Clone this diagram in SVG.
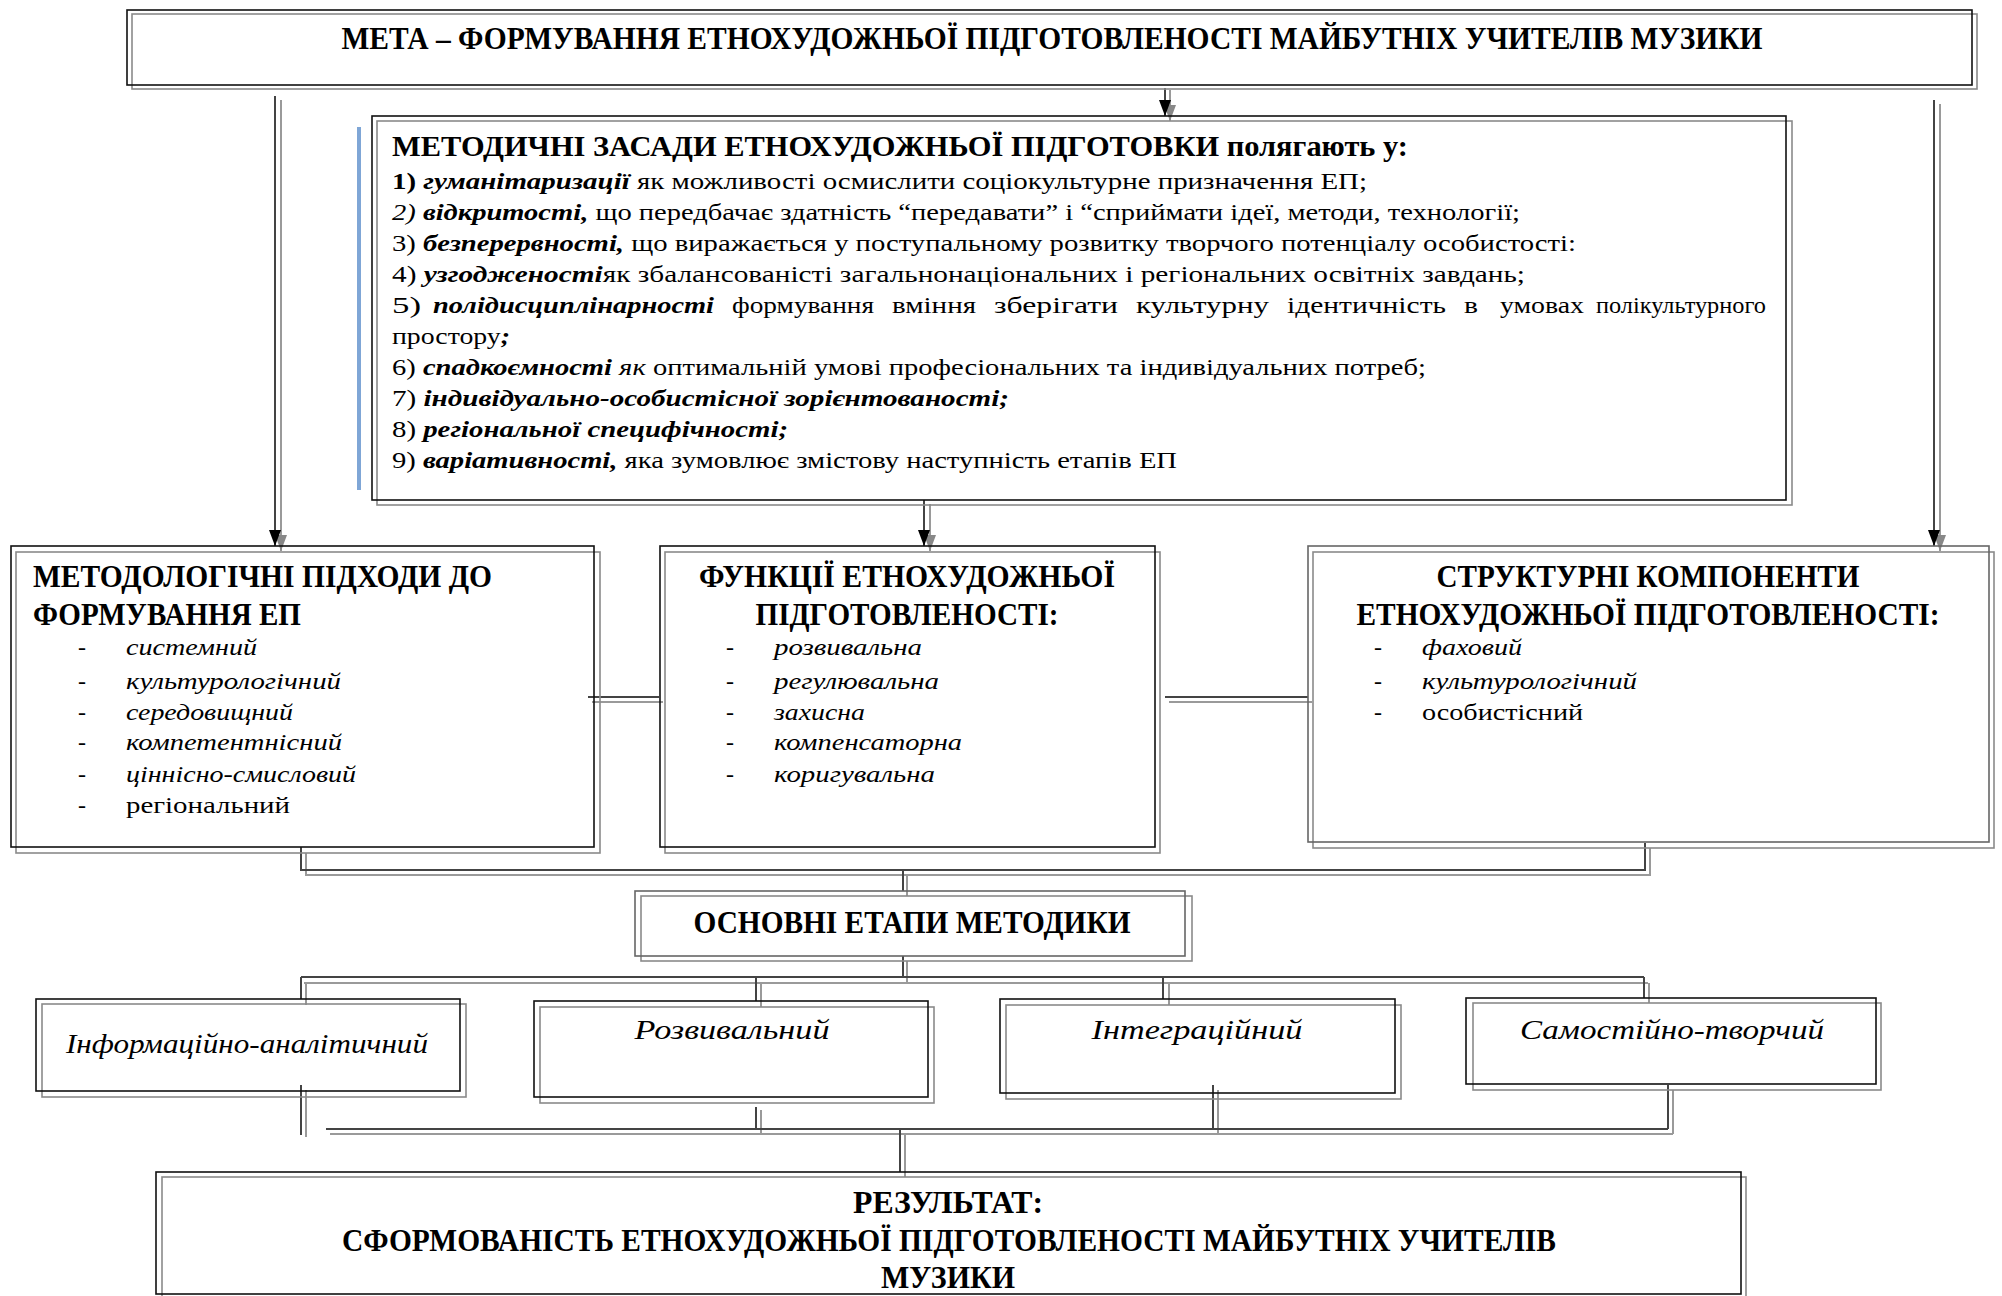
<svg xmlns="http://www.w3.org/2000/svg" width="2002" height="1296" viewBox="0 0 2002 1296">
<style>
  .bk{fill:none;stroke:#111;stroke-width:1.6}
  .gr{fill:none;stroke:#8a8a8a;stroke-width:1.6}
  .dk{fill:none;stroke:#666;stroke-width:1.6}
  .cb{fill:none;stroke:#444;stroke-width:2}
  .cg{fill:none;stroke:#9a9a9a;stroke-width:2}
  text{font-family:"Liberation Serif","DejaVu Serif",serif;fill:#000}
  .h29{font-size:31px;font-weight:bold}
  .h28{font-size:30px;font-weight:bold}
  .h30{font-size:31px;font-weight:bold}
  .bd{font-size:24px}
  .it{font-style:italic}
  .bo{font-weight:bold}
  .bi{font-weight:bold;font-style:italic}
  .st{font-size:28px;font-style:italic}
</style>
<defs>
  <marker id="arrB" markerUnits="userSpaceOnUse" markerWidth="16" markerHeight="12" refX="16" refY="6" orient="auto">
    <path d="M0,0 L16,6 L0,12 z" fill="#000"/>
  </marker>
  <marker id="arrG" markerUnits="userSpaceOnUse" markerWidth="16" markerHeight="12" refX="16" refY="6" orient="auto">
    <path d="M0,0 L16,6 L0,12 z" fill="#888"/>
  </marker>
</defs>
<rect width="2002" height="1296" fill="#fff"/>

<g id="connectors">
  <path class="cg" d="M281,100 L281,551" marker-end="url(#arrG)"/>
  <path class="cb" d="M275,96 L275,546" marker-end="url(#arrB)"/>
  <path class="cg" d="M1170,90 L1170,121" marker-end="url(#arrG)"/>
  <path class="cb" d="M1165,88 L1165,116" marker-end="url(#arrB)"/>
  <path class="cg" d="M1940,104 L1940,551" marker-end="url(#arrG)"/>
  <path class="cb" d="M1934,100 L1934,546" marker-end="url(#arrB)"/>
  <path class="cg" d="M930,504 L930,551" marker-end="url(#arrG)"/>
  <path class="cb" d="M924,500 L924,546" marker-end="url(#arrB)"/>
  <path class="cg" d="M592,702 L663,702 M1169,702 L1312,702"/>
  <path class="cb" d="M588,697 L659,697 M1165,697 L1308,697"/>
  <path class="cg" d="M306,853 L306,875 L1650,875 L1650,848 M907,875 L907,896"/>
  <path class="cb" d="M301,847 L301,870 L1645,870 L1645,843 M903,870 L903,891"/>
  <path class="cg" d="M907,961 L907,983 M304,983 L1648,983 M306,983 L306,1005 M761,983 L761,1007 M1169,983 L1169,1005 M1649,983 L1649,1003"/>
  <path class="cb" d="M903,956 L903,977 M301,977 L1644,977 M301,977 L301,999 M756,977 L756,1001 M1163,977 L1163,999 M1644,977 L1644,998"/>
  <path class="cg" d="M306,1090 L306,1137 M330,1134 L1673,1134 M761,1110 L761,1134 M1218,1090 L1218,1134 M1673,1090 L1673,1134 M905,1134 L905,1177"/>
  <path class="cb" d="M301,1085 L301,1135 M326,1129 L1668,1129 M756,1107 L756,1129 M1213,1085 L1213,1129 M1668,1085 L1668,1129 M900,1129 L900,1172"/>
</g>

<g id="goal">
  <rect class="gr" x="132" y="14" width="1845" height="75"/>
  <rect class="bk" x="127" y="10" width="1845" height="75" fill="#fff"/>
  <text class="h29" x="1052" y="49" text-anchor="middle" textLength="1421" lengthAdjust="spacingAndGlyphs">МЕТА – ФОРМУВАННЯ ЕТНОХУДОЖНЬОЇ ПІДГОТОВЛЕНОСТІ МАЙБУТНІХ УЧИТЕЛІВ МУЗИКИ</text>
</g>

<g id="principles">
  <rect class="gr" x="377" y="121" width="1415" height="384"/>
  <rect class="bk" x="372" y="116" width="1414" height="384" fill="#fff"/>
  <line x1="359" y1="127" x2="359" y2="490" stroke="#7fa6d6" stroke-width="4"/>
  <text class="h28" x="392" y="156" textLength="1016" lengthAdjust="spacingAndGlyphs">МЕТОДИЧНІ ЗАСАДИ ЕТНОХУДОЖНЬОЇ ПІДГОТОВКИ полягають у:</text>
  <text class="bd" x="392" y="189" textLength="975" lengthAdjust="spacingAndGlyphs"><tspan class="bo">1) </tspan><tspan class="bi">гуманітаризації</tspan> як можливості осмислити соціокультурне призначення ЕП;</text>
  <text class="bd" x="392" y="220" textLength="1128" lengthAdjust="spacingAndGlyphs"><tspan class="it">2) </tspan><tspan class="bi">відкритості,</tspan> що передбачає здатність “передавати” і “сприймати ідеї, методи, технології;</text>
  <text class="bd" x="392" y="251" textLength="1184" lengthAdjust="spacingAndGlyphs">3) <tspan class="bi">безперервності,</tspan> що виражається у поступальному розвитку творчого потенціалу особистості:</text>
  <text class="bd" x="392" y="282" textLength="1133" lengthAdjust="spacingAndGlyphs">4) <tspan class="bi">узгодженості</tspan>як збалансованісті загальнонаціональних і регіональних освітніх завдань;</text>
  <text class="bd" y="313"><tspan x="392" textLength="29" lengthAdjust="spacingAndGlyphs">5)</tspan><tspan class="bi" x="433" textLength="281" lengthAdjust="spacingAndGlyphs">полідисциплінарності</tspan><tspan x="732" textLength="142" lengthAdjust="spacingAndGlyphs">формування</tspan><tspan x="892" textLength="84" lengthAdjust="spacingAndGlyphs">вміння</tspan><tspan x="994" textLength="124" lengthAdjust="spacingAndGlyphs">зберігати</tspan><tspan x="1136" textLength="133" lengthAdjust="spacingAndGlyphs">культурну</tspan><tspan x="1287" textLength="159" lengthAdjust="spacingAndGlyphs">ідентичність</tspan><tspan x="1464" textLength="14" lengthAdjust="spacingAndGlyphs">в</tspan><tspan x="1500" textLength="84" lengthAdjust="spacingAndGlyphs">умовах</tspan><tspan x="1596" textLength="170" lengthAdjust="spacingAndGlyphs">полікультурного</tspan></text>
  <text class="bd" x="392" y="344" textLength="118" lengthAdjust="spacingAndGlyphs">простору<tspan class="bi">;</tspan></text>
  <text class="bd" x="392" y="375" textLength="1034" lengthAdjust="spacingAndGlyphs">6) <tspan class="bi">спадкоємності</tspan> <tspan class="it">як</tspan> оптимальній умові професіональних та індивідуальних потреб;</text>
  <text class="bd" x="392" y="406" textLength="617" lengthAdjust="spacingAndGlyphs">7) <tspan class="bi">індивідуально-особистісної зорієнтованості;</tspan></text>
  <text class="bd" x="392" y="437" textLength="396" lengthAdjust="spacingAndGlyphs">8) <tspan class="bi">регіональної специфічності;</tspan></text>
  <text class="bd" x="392" y="468" textLength="785" lengthAdjust="spacingAndGlyphs">9) <tspan class="bi">варіативності,</tspan> яка зумовлює змістову наступність етапів ЕП</text>
</g>

<g id="approaches">
  <rect class="gr" x="16" y="552" width="584" height="301"/>
  <rect class="bk" x="11" y="546" width="583" height="301" fill="#fff"/>
  <text class="h30" x="33" y="587" textLength="459" lengthAdjust="spacingAndGlyphs">МЕТОДОЛОГІЧНІ ПІДХОДИ ДО</text>
  <text class="h30" x="33" y="625" textLength="268" lengthAdjust="spacingAndGlyphs">ФОРМУВАННЯ ЕП</text>
  <g class="bd">
    <text x="78" y="655">-</text><text class="it" x="126" y="655" textLength="131" lengthAdjust="spacingAndGlyphs">системний</text>
    <text x="78" y="689">-</text><text class="it" x="126" y="689" textLength="215" lengthAdjust="spacingAndGlyphs">культурологічний</text>
    <text x="78" y="720">-</text><text class="it" x="126" y="720" textLength="167" lengthAdjust="spacingAndGlyphs">середовищний</text>
    <text x="78" y="750">-</text><text class="it" x="126" y="750" textLength="216" lengthAdjust="spacingAndGlyphs">компетентнісний</text>
    <text x="78" y="782">-</text><text class="it" x="126" y="782" textLength="230" lengthAdjust="spacingAndGlyphs">ціннісно-смисловий</text>
    <text x="78" y="813">-</text><text x="126" y="813" textLength="164" lengthAdjust="spacingAndGlyphs">регіональний</text>
  </g>
</g>

<g id="functions">
  <rect class="gr" x="665" y="552" width="495" height="301"/>
  <rect class="bk" x="660" y="546" width="495" height="301" fill="#fff"/>
  <text class="h30" x="907" y="587" text-anchor="middle" textLength="416" lengthAdjust="spacingAndGlyphs">ФУНКЦІЇ ЕТНОХУДОЖНЬОЇ</text>
  <text class="h30" x="907" y="625" text-anchor="middle" textLength="303" lengthAdjust="spacingAndGlyphs">ПІДГОТОВЛЕНОСТІ:</text>
  <g class="bd">
    <text x="726" y="655">-</text><text class="it" x="774" y="655" textLength="148" lengthAdjust="spacingAndGlyphs">розвивальна</text>
    <text x="726" y="689">-</text><text class="it" x="774" y="689" textLength="165" lengthAdjust="spacingAndGlyphs">регулювальна</text>
    <text x="726" y="720">-</text><text class="it" x="774" y="720" textLength="91" lengthAdjust="spacingAndGlyphs">захисна</text>
    <text x="726" y="750">-</text><text class="it" x="774" y="750" textLength="188" lengthAdjust="spacingAndGlyphs">компенсаторна</text>
    <text x="726" y="782">-</text><text class="it" x="774" y="782" textLength="161" lengthAdjust="spacingAndGlyphs">коригувальна</text>
  </g>
</g>

<g id="components">
  <rect class="gr" x="1313" y="552" width="681" height="296"/>
  <rect class="dk" x="1308" y="546" width="681" height="296" fill="#fff"/>
  <text class="h30" x="1648" y="587" text-anchor="middle" textLength="423" lengthAdjust="spacingAndGlyphs">СТРУКТУРНІ КОМПОНЕНТИ</text>
  <text class="h30" x="1648" y="625" text-anchor="middle" textLength="583" lengthAdjust="spacingAndGlyphs">ЕТНОХУДОЖНЬОЇ ПІДГОТОВЛЕНОСТІ:</text>
  <g class="bd">
    <text x="1374" y="655">-</text><text class="it" x="1422" y="655" textLength="100" lengthAdjust="spacingAndGlyphs">фаховий</text>
    <text x="1374" y="689">-</text><text class="it" x="1422" y="689" textLength="215" lengthAdjust="spacingAndGlyphs">культурологічний</text>
    <text x="1374" y="720">-</text><text x="1422" y="720" textLength="161" lengthAdjust="spacingAndGlyphs">особистісний</text>
  </g>
</g>

<g id="stages-title">
  <rect class="gr" x="641" y="896" width="551" height="65"/>
  <rect class="dk" x="635" y="891" width="550" height="65" fill="#fff"/>
  <text class="h30" x="912" y="933" text-anchor="middle" textLength="437" lengthAdjust="spacingAndGlyphs">ОСНОВНІ ЕТАПИ МЕТОДИКИ</text>
</g>

<g id="stage1">
  <rect class="gr" x="42" y="1004" width="424" height="93"/>
  <rect class="bk" x="36" y="999" width="424" height="92" fill="#fff"/>
  <text class="st" x="247" y="1053" text-anchor="middle" textLength="362" lengthAdjust="spacingAndGlyphs">Інформаційно-аналітичний</text>
</g>
<g id="stage2">
  <rect class="gr" x="540" y="1007" width="394" height="96"/>
  <rect class="bk" x="534" y="1001" width="394" height="96" fill="#fff"/>
  <text class="st" x="732" y="1039" text-anchor="middle" textLength="195" lengthAdjust="spacingAndGlyphs">Розвивальний</text>
</g>
<g id="stage3">
  <rect class="gr" x="1006" y="1005" width="395" height="94"/>
  <rect class="bk" x="1000" y="999" width="395" height="94" fill="#fff"/>
  <text class="st" x="1197" y="1039" text-anchor="middle" textLength="211" lengthAdjust="spacingAndGlyphs">Інтеграційний</text>
</g>
<g id="stage4">
  <rect class="gr" x="1473" y="1003" width="408" height="87"/>
  <rect class="bk" x="1466" y="998" width="410" height="86" fill="#fff"/>
  <text class="st" x="1672" y="1039" text-anchor="middle" textLength="304" lengthAdjust="spacingAndGlyphs">Самостійно-творчий</text>
</g>

<g id="result">
  <rect class="gr" x="162" y="1177" width="1584" height="125"/>
  <rect class="bk" x="156" y="1172" width="1585" height="122" fill="#fff"/>
  <text class="h30" x="948" y="1213" text-anchor="middle" textLength="190" lengthAdjust="spacingAndGlyphs">РЕЗУЛЬТАТ:</text>
  <text class="h30" x="949" y="1251" text-anchor="middle" textLength="1214" lengthAdjust="spacingAndGlyphs">СФОРМОВАНІСТЬ ЕТНОХУДОЖНЬОЇ ПІДГОТОВЛЕНОСТІ МАЙБУТНІХ УЧИТЕЛІВ</text>
  <text class="h30" x="948" y="1288" text-anchor="middle" textLength="134" lengthAdjust="spacingAndGlyphs">МУЗИКИ</text>
</g>
</svg>
